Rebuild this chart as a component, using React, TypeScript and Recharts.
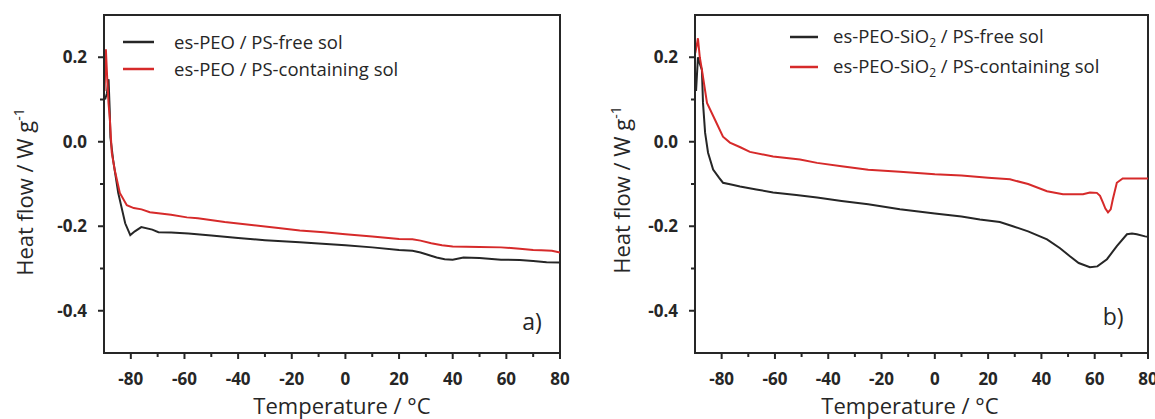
import { LineChart, Line, XAxis, YAxis, Legend, ReferenceArea, ReferenceDot, Label } from 'recharts';

const FONT = '"Open Sans", "Liberation Sans", sans-serif';
const INK = '#262626';
const RED = '#d62a2a';

// panel a) es-PEO
const tempFreeA = [-89.6, -88.9, -88.3, -87.9, -87.6, -86.6, -84.7, -82.1, -80.2, -78.5, -76.1, -72, -69.7, -65, -58.5, -50, -40, -30, -17, -10, 0, 10, 20, 25, 28, 31, 34, 37, 40, 44, 50, 58, 65, 70, 75, 80];
const flowFreeA = [0.1, 0.115, 0.148, 0.08, 0.01, -0.043, -0.121, -0.193, -0.221, -0.212, -0.202, -0.208, -0.214, -0.215, -0.217, -0.222, -0.228, -0.233, -0.238, -0.241, -0.245, -0.25, -0.256, -0.258, -0.262, -0.268, -0.274, -0.278, -0.279, -0.274, -0.275, -0.279, -0.28, -0.282, -0.285, -0.286];
const tempContA = [-89.8, -89.3, -88.8, -88.3, -87.8, -87.1, -86.0, -84.1, -81.5, -78.9, -76, -72.9, -65, -59.1, -55, -45, -35, -25, -17, -8, 0, 10, 20, 25, 28, 32, 36, 40, 50, 58, 65, 70, 73, 77, 80];
const flowContA = [0.12, 0.219, 0.15, 0.09, 0.052, -0.026, -0.067, -0.121, -0.15, -0.157, -0.16, -0.167, -0.173, -0.179, -0.181, -0.19, -0.197, -0.204, -0.21, -0.214, -0.219, -0.224, -0.23, -0.231, -0.234, -0.24, -0.245, -0.248, -0.249, -0.25, -0.253, -0.256, -0.257, -0.258, -0.262];

// panel b) es-PEO-SiO2
const tempFreeB = [-89.6, -88.9, -88.2, -87.4, -87.0, -86.2, -85.1, -83.2, -81, -79.5, -76, -73.1, -67, -60.7, -52, -44.2, -35, -25, -13.1, 0, 10, 16.9, 24.4, 29.3, 35, 42.1, 47, 50.7, 54, 58.2, 61, 64.6, 68.3, 72.1, 74, 75.8, 78.9, 80];
const flowFreeB = [0.12, 0.2, 0.185, 0.17, 0.092, 0.021, -0.026, -0.066, -0.085, -0.097, -0.102, -0.106, -0.113, -0.12, -0.126, -0.132, -0.14, -0.148, -0.16, -0.17, -0.177, -0.184, -0.19, -0.2, -0.212, -0.231, -0.252, -0.271, -0.287, -0.297, -0.295, -0.278, -0.247, -0.219, -0.217, -0.219, -0.224, -0.225];
const tempContB = [-89.9, -89.3, -88.9, -88.2, -87.4, -85.5, -82.5, -79.5, -76.9, -73, -69.4, -60.7, -50.6, -44.2, -35, -25, -13.1, 0, 10, 20, 28.2, 35, 42.1, 48.1, 55.6, 58.2, 60.8, 62, 63.1, 64, 65, 66, 66.8, 68.3, 70.5, 75, 80];
const flowContB = [0.21, 0.23, 0.245, 0.2, 0.17, 0.092, 0.052, 0.012, -0.002, -0.013, -0.024, -0.035, -0.042, -0.05, -0.058, -0.066, -0.071, -0.077, -0.08, -0.085, -0.089, -0.1, -0.117, -0.124, -0.124, -0.12, -0.121, -0.128, -0.144, -0.158, -0.167, -0.16, -0.136, -0.097, -0.087, -0.087, -0.087];

const xTicks = [-80, -70, -60, -50, -40, -30, -20, -10, 0, 10, 20, 30, 40, 50, 60, 70, 80];
const yTicks = [-0.4, -0.3, -0.2, -0.1, 0, 0.1, 0.2];

const toPoints = (t: number[], v: number[]) => t.map((x, i) => ({ t: x, v: v[i] }));

function XTick({ x, y, payload }: any) {
  const v = payload.value;
  const major = Math.abs(v) % 20 === 0;
  return (
    <g>
      <line x1={x} x2={x} y1={y} y2={y + (major ? 6 : 4)} stroke={INK} strokeWidth={2} />
      {major && (
        <text x={x} y={y + 32} textAnchor="middle" fontSize={17} fontWeight={700} fill={INK} fontFamily={FONT}>
          {v}
        </text>
      )}
    </g>
  );
}

function YTick({ x, y, payload }: any) {
  const v = payload.value;
  const major = Math.round(Math.abs(v) * 10) % 2 === 0;
  return (
    <g>
      <line x1={x - (major ? 6 : 4)} x2={x} y1={y} y2={y} stroke={INK} strokeWidth={2} />
      {major && (
        <text x={x - 17} y={y + 6} textAnchor="end" fontSize={17} fontWeight={700} fill={INK} fontFamily={FONT}>
          {v.toFixed(1)}
        </text>
      )}
    </g>
  );
}

const yTitle = (cx: number, cy: number) => () => (
  <text x={cx} y={cy} transform={`rotate(-90 ${cx} ${cy})`} textAnchor="middle" fontSize={22} fill={INK} fontFamily={FONT}>
    Heat flow / W g<tspan fontSize={14} dy={-9}>-1</tspan>
  </text>
);

const xTitle = (cx: number) => () => (
  <text x={cx} y={414} textAnchor="middle" fontSize={22} fill={INK} fontFamily={FONT}>
    Temperature / °C
  </text>
);

type Item = { color: string; label: React.ReactNode };

function LegendBox({ items, lineW, gap, rowH }: { items: Item[]; lineW: number; gap: number; rowH: number }) {
  return (
    <div style={{ fontFamily: FONT, fontSize: 18.5, color: INK }}>
      {items.map((it, i) => (
        <div key={i} style={{ display: 'flex', alignItems: 'center', height: rowH, whiteSpace: 'nowrap' }}>
          <svg width={lineW} height={4} style={{ marginRight: gap }}>
            <line x1={0} x2={lineW} y1={2} y2={2} stroke={it.color} strokeWidth={2.5} />
          </svg>
          <span>{it.label}</span>
        </div>
      ))}
    </div>
  );
}

const legendA: Item[] = [
  { color: INK, label: 'es-PEO / PS-free sol' },
  { color: RED, label: 'es-PEO / PS-containing sol' },
];

const legendB: Item[] = [
  { color: INK, label: <>es-PEO-SiO<sub style={{ fontSize: '0.65em', verticalAlign: '-0.3em' }}>2</sub> / PS-free sol</> },
  { color: RED, label: <>es-PEO-SiO<sub style={{ fontSize: '0.65em', verticalAlign: '-0.3em' }}>2</sub> / PS-containing sol</> },
];

type PanelProps = {
  width: number;
  axisW: number;
  right: number;
  free: { t: number; v: number }[];
  cont: { t: number; v: number }[];
  items: Item[];
  legendPos: { left: number; top: number };
  legendLine: number;
  legendGap: number;
  rowH: number;
  yTitleX: number;
  yTitleY: number;
  xTitleX: number;
  tag: string;
  tagAt: [number, number];
};

function Panel(p: PanelProps) {
  return (
    <LineChart width={p.width} height={419} margin={{ top: 15, right: p.right, bottom: 0, left: 0 }}>
      <XAxis
        type="number"
        dataKey="t"
        domain={[-90, 80]}
        ticks={xTicks}
        interval={0}
        allowDataOverflow
        height={66}
        tickSize={0}
        tickMargin={0}
        tickLine={false}
        tick={<XTick />}
        axisLine={{ stroke: INK, strokeWidth: 2 }}
      >
        <Label content={xTitle(p.xTitleX)} />
      </XAxis>
      <YAxis
        type="number"
        domain={[-0.5, 0.3]}
        ticks={yTicks}
        interval={0}
        allowDataOverflow
        width={p.axisW}
        tickSize={0}
        tickMargin={0}
        tickLine={false}
        tick={<YTick />}
        axisLine={{ stroke: INK, strokeWidth: 2 }}
      >
        <Label content={yTitle(p.yTitleX, p.yTitleY)} />
      </YAxis>
      <ReferenceArea x1={-90} x2={80} y1={-0.5} y2={0.3} fill="none" stroke={INK} strokeWidth={2} />
      <Line data={p.free} dataKey="v" type="linear" stroke={INK} strokeWidth={2} dot={false} isAnimationActive={false} />
      <Line data={p.cont} dataKey="v" type="linear" stroke={RED} strokeWidth={2} dot={false} isAnimationActive={false} />
      <ReferenceDot
        x={p.tagAt[0]}
        y={p.tagAt[1]}
        r={0}
        fill="none"
        stroke="none"
        label={{ value: p.tag, position: 'center', fontSize: 23, fill: INK, fontFamily: FONT }}
      />
      <Legend
        layout="vertical"
        align="center"
        verticalAlign="middle"
        wrapperStyle={{ left: p.legendPos.left, top: p.legendPos.top, width: 360 }}
        content={() => <LegendBox items={p.items} lineW={p.legendLine} gap={p.legendGap} rowH={p.rowH} />}
      />
    </LineChart>
  );
}

export default function App() {
  return (
    <div style={{ position: 'absolute', left: 0, top: 0, width: 1155, height: 419, background: '#fff', fontFamily: FONT }}>
      <div style={{ position: 'absolute', left: 0, top: 0 }}>
        <Panel
          width={580}
          axisW={104}
          right={20}
          free={toPoints(tempFreeA, flowFreeA)}
          cont={toPoints(tempContA, flowContA)}
          items={legendA}
          legendPos={{ left: 123, top: 28 }}
          legendLine={31}
          legendGap={20}
          rowH={27}
          yTitleX={33}
          yTitleY={192}
          xTitleX={342}
          tag="a)"
          tagAt={[69.6, -0.426]}
        />
      </div>
      <div style={{ position: 'absolute', left: 580, top: 0 }}>
        <Panel
          width={575}
          axisW={115}
          right={7}
          free={toPoints(tempFreeB, flowFreeB)}
          cont={toPoints(tempContB, flowContB)}
          items={legendB}
          legendPos={{ left: 210, top: 22 }}
          legendLine={28}
          legendGap={15}
          rowH={30}
          yTitleX={50}
          yTitleY={190}
          xTitleX={330}
          tag="b)"
          tagAt={[66.9, -0.414]}
        />
      </div>
    </div>
  );
}
